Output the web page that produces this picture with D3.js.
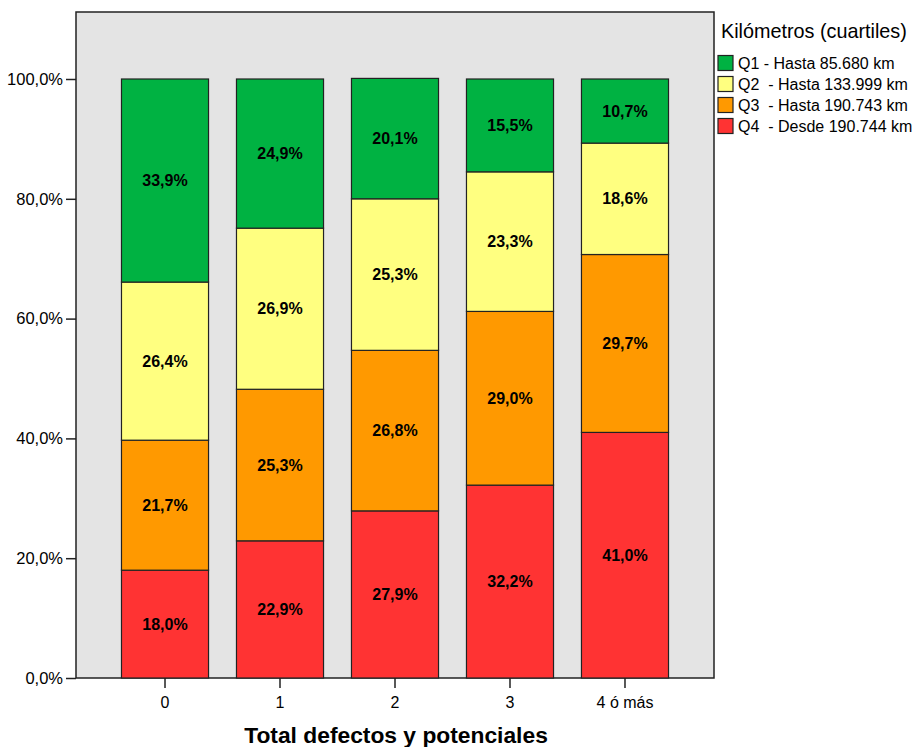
<!DOCTYPE html>
<html><head><meta charset="utf-8">
<script src="https://cdn.jsdelivr.net/npm/d3@7"></script>
<style>body{margin:0;background:#fff;}svg{display:block;font-family:Arial,"Liberation Sans",sans-serif;}</style>
</head><body>
<svg id="c" width="917" height="747"></svg>
<script>
const categories = ["0", "1", "2", "3", "4 ó más"];
const seriesNames = ["Q1 - Hasta 85.680 km", "Q2  - Hasta 133.999 km", "Q3  - Hasta 190.743 km", "Q4  - Desde 190.744 km"];
const q1 = [33.9, 24.9, 20.1, 15.5, 10.7];
const q2 = [26.4, 26.9, 25.3, 23.3, 18.6];
const q3 = [21.7, 25.3, 26.8, 29.0, 29.7];
const q4 = [18.0, 22.9, 27.9, 32.2, 41.0];
const yTicks = [0, 20, 40, 60, 80, 100];
const colors = ["#00b242", "#ffff80", "#ff9900", "#ff3333"];

const svg = d3.select("#c");
const L = 76, R = 714, T = 12, B = 678;
const y = d3.scaleLinear().domain([0, 100]).range([B, 79]);
const x = d3.scaleBand().domain(categories).range([L, R]).paddingInner(0.243).paddingOuter(0.3955);
const FF = "Arial,'Liberation Sans',sans-serif";

svg.append("rect").attr("x", L).attr("y", T).attr("width", R - L).attr("height", B - T)
  .attr("fill", "#e4e4e4").attr("stroke", "#222").attr("stroke-width", 1.5);

const stackOrder = [q4, q3, q2, q1];
const stackColors = [colors[3], colors[2], colors[1], colors[0]];
categories.forEach((c, i) => {
  let base = 0;
  stackOrder.forEach((s, k) => {
    const v = s[i];
    const y0 = y(base), y1 = y(base + v);
    svg.append("rect").attr("x", x(c)).attr("y", y1).attr("width", x.bandwidth()).attr("height", y0 - y1)
      .attr("fill", stackColors[k]).attr("stroke", "#222").attr("stroke-width", 1.2);
    svg.append("text").attr("x", x(c) + x.bandwidth() / 2).attr("y", (y0 + y1) / 2 + 5.5)
      .attr("text-anchor", "middle").attr("font-size", 16).attr("font-weight", "bold").attr("fill", "#000")
      .text(v.toFixed(1).replace(".", ",") + "%");
    base += v;
  });
});

const yAxis = d3.axisLeft(y).tickValues(yTicks).tickSize(10).tickPadding(3).tickSizeOuter(0)
  .tickFormat(d => d.toFixed(1).replace(".", ",") + "%");
const gy = svg.append("g").attr("transform", `translate(${L},0)`).call(yAxis);
gy.select(".domain").remove();
gy.selectAll("line").attr("stroke", "#222").attr("stroke-width", 1.5);
gy.selectAll("text").attr("font-size", 16.5).attr("fill", "#000").attr("font-family", FF);

const xAxis = d3.axisBottom(x).tickSize(10).tickSizeOuter(0);
const gx = svg.append("g").attr("transform", `translate(0,${B})`).call(xAxis);
gx.select(".domain").remove();
gx.selectAll("line").attr("stroke", "#222").attr("stroke-width", 1.5);
gx.selectAll("text").attr("font-size", 16).attr("fill", "#000").attr("font-family", FF).attr("dy", "1.05em");

svg.append("text").attr("x", 396).attr("y", 743).attr("text-anchor", "middle")
  .attr("font-size", 22.8).attr("font-weight", "bold").attr("fill", "#000").text("Total defectos y potenciales");

svg.append("text").attr("x", 721).attr("y", 38).attr("font-size", 19.8).attr("fill", "#000").text("Kilómetros (cuartiles)");
seriesNames.forEach((n, i) => {
  const cy = 63 + i * 21;
  svg.append("rect").attr("x", 718).attr("y", cy - 7.5).attr("width", 15).attr("height", 15)
    .attr("fill", colors[i]).attr("stroke", "#222").attr("stroke-width", 1.2);
  svg.append("text").attr("x", 738).attr("y", cy + 5.5).attr("font-size", 16).attr("fill", "#000")
    .style("white-space", "pre").text(n);
});
</script>
</body></html>
